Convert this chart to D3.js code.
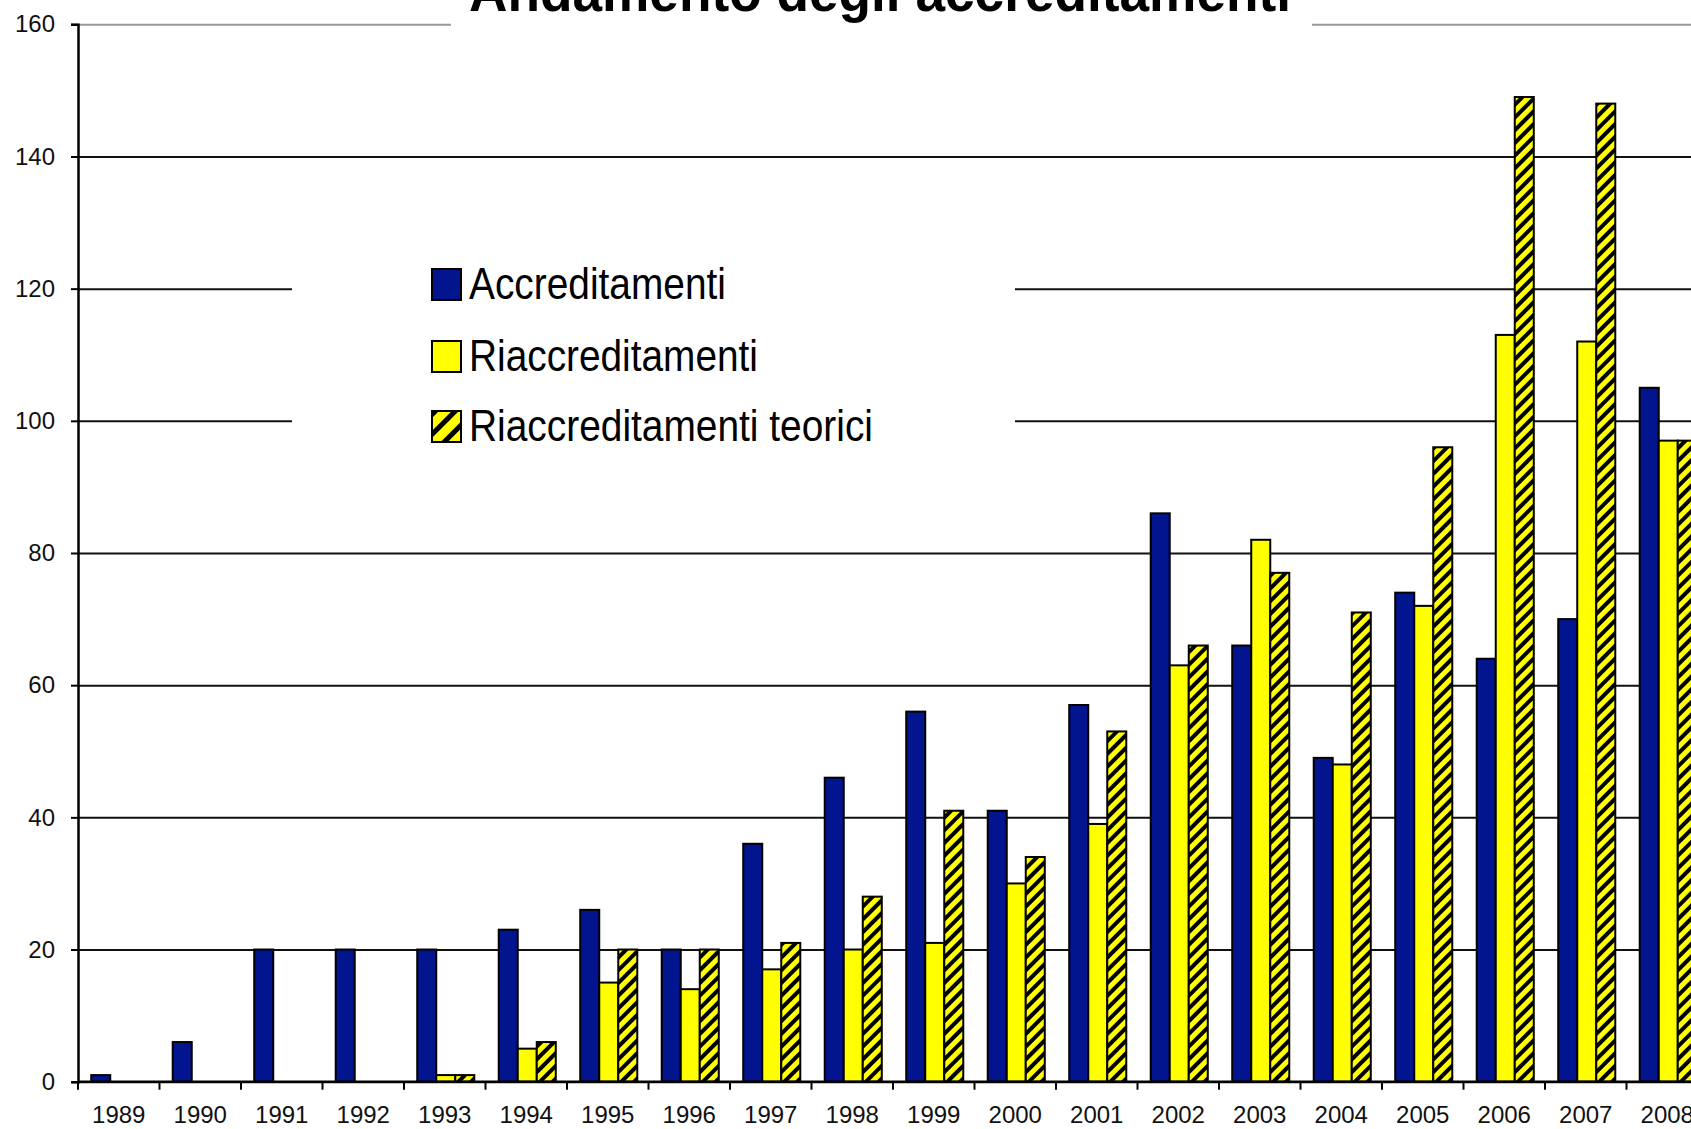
<!DOCTYPE html>
<html>
<head>
<meta charset="utf-8">
<script src="https://cdn.jsdelivr.net/npm/d3@7"></script>
<style>
  body { margin: 0; background: #fff; overflow: hidden; }
  text { font-family: "Liberation Sans", Arial, sans-serif; }
</style>
</head>
<body>
<div id="chart"></div>
<script>
var years = ["1989","1990","1991","1992","1993","1994","1995","1996","1997","1998",
             "1999","2000","2001","2002","2003","2004","2005","2006","2007","2008"];
var accreditamenti   = [1, 6, 20, 20, 20, 23, 26, 20, 36, 46, 56, 41, 57, 86, 66, 49, 74, 64, 70, 105];
var riaccreditamenti = [0, 0, 0, 0, 1, 5, 15, 14, 17, 20, 21, 30, 39, 63, 82, 48, 72, 113, 112, 97];
var teorici          = [0, 0, 0, 0, 1, 6, 20, 20, 21, 28, 41, 34, 53, 66, 77, 71, 96, 149, 148, 97];
var seriesNames = ["Accreditamenti", "Riaccreditamenti", "Riaccreditamenti teorici"];
var yTicks = [0, 20, 40, 60, 80, 100, 120, 140, 160];
var title = "Andamento degli accreditamenti";

var W = 1691, H = 1129;
var plotLeft = 78, plotTop = 24.3, plotBottom = 1081.7, step = 81.5;
var plotRight = plotLeft + step * years.length;

var svg = d3.select("#chart").append("svg")
  .attr("width", W)
  .attr("height", H);

var defs = svg.append("defs");
function hatch(id, size, stripe) {
  var p = defs.append("pattern")
    .attr("id", id)
    .attr("patternUnits", "userSpaceOnUse")
    .attr("width", size).attr("height", size)
    .attr("patternTransform", "rotate(45)");
  p.append("rect").attr("width", size).attr("height", size).attr("fill", "#ffff00");
  p.append("rect").attr("width", stripe).attr("height", size).attr("fill", "#000");
}
hatch("hatch", 9, 4);
hatch("hatchBig", 14, 5);

var colors = ["#02148e", "#ffff00", "url(#hatch)"];

var x = d3.scaleBand()
  .domain(years)
  .range([plotLeft, plotRight])
  .paddingInner(0.3)
  .paddingOuter(0.15);

var x1 = d3.scaleBand()
  .domain(d3.range(3))
  .range([0, x.bandwidth()]);

var y = d3.scaleLinear()
  .domain([0, 160])
  .range([plotBottom, plotTop]);

// gridlines
var grid = svg.append("g")
  .attr("transform", "translate(" + plotLeft + ",0)")
  .call(d3.axisLeft(y).tickValues(yTicks).tickSize(-(plotRight - plotLeft)).tickFormat(""));
grid.select(".domain").remove();
grid.selectAll(".tick line")
  .attr("stroke", function(d) { return d == 160 ? "#999" : "#111"; })
  .attr("stroke-width", 2);

// white boxes behind title and legend
svg.append("rect").attr("x", 451).attr("y", 0).attr("width", 861).attr("height", 40).attr("fill", "#fff");
svg.append("rect").attr("x", 292).attr("y", 225).attr("width", 723).attr("height", 240).attr("fill", "#fff");

// bars
var data = years.map(function(yr, i) {
  return { year: yr, values: [accreditamenti[i], riaccreditamenti[i], teorici[i]] };
});

var groups = svg.selectAll(".year")
  .data(data)
  .enter().append("g")
  .attr("class", "year")
  .attr("transform", function(d) { return "translate(" + (x(d.year) + 1) + ",0)"; });

groups.selectAll("rect")
  .data(function(d) { return d.values.map(function(v, k) { return { k: k, v: v }; }); })
  .enter().filter(function(d) { return d.v > 0; }).append("rect")
  .attr("x", function(d) { return x1(d.k); })
  .attr("y", function(d) { return y(d.v); })
  .attr("width", x1.bandwidth())
  .attr("height", function(d) { return y(0) - y(d.v); })
  .attr("fill", function(d) { return colors[d.k]; })
  .attr("stroke", "#000")
  .attr("stroke-width", 2);

// y axis
var yAxis = svg.append("g")
  .attr("transform", "translate(" + plotLeft + ",0)")
  .call(d3.axisLeft(y).tickValues(yTicks).tickSize(7).tickPadding(16));
yAxis.select(".domain").attr("stroke", "#000").attr("stroke-width", 2.5);
yAxis.selectAll(".tick line").attr("stroke", "#000").attr("stroke-width", 2);
yAxis.selectAll("text").attr("font-size", 24).attr("fill", "#111")
  .attr("font-family", "Liberation Sans, Arial, sans-serif");

// x axis
var xAxis = svg.append("g")
  .attr("transform", "translate(0," + plotBottom + ")")
  .call(d3.axisBottom(x).tickSize(0).tickPadding(24.5));
xAxis.select(".domain").remove();
xAxis.selectAll("text").attr("font-size", 24).attr("fill", "#111")
  .attr("font-family", "Liberation Sans, Arial, sans-serif");

svg.append("line")
  .attr("x1", plotLeft).attr("x2", plotRight)
  .attr("y1", plotBottom).attr("y2", plotBottom)
  .attr("stroke", "#000").attr("stroke-width", 2.5);

var bounds = years.map(function(d) { return x(d) - x.step() * x.paddingOuter(); });
bounds.push(plotRight);
svg.selectAll(".xtick")
  .data(bounds)
  .enter().append("line")
  .attr("class", "xtick")
  .attr("x1", function(d) { return d; }).attr("x2", function(d) { return d; })
  .attr("y1", plotBottom).attr("y2", plotBottom + 8)
  .attr("stroke", "#000").attr("stroke-width", 2);

// legend
var legendFill = ["#02148e", "#ffff00", "url(#hatchBig)"];
var legendRows = [269, 341, 411];
var legendWidths = [257, 289, 404];
var legend = svg.selectAll(".legend")
  .data(seriesNames)
  .enter().append("g")
  .attr("class", "legend")
  .attr("transform", function(d, i) { return "translate(432," + legendRows[i] + ")"; });

legend.append("rect")
  .attr("width", 29).attr("height", 31)
  .attr("fill", function(d, i) { return legendFill[i]; })
  .attr("stroke", "#000").attr("stroke-width", 2);

legend.append("text")
  .attr("x", 37).attr("y", 30)
  .attr("font-size", 44)
  .attr("textLength", function(d, i) { return legendWidths[i]; })
  .attr("lengthAdjust", "spacingAndGlyphs")
  .attr("fill", "#000")
  .text(function(d) { return d; });

// title (cut at the top edge)
svg.append("text")
  .attr("x", 469).attr("y", 11)
  .attr("font-size", 56)
  .attr("font-weight", "bold")
  .attr("textLength", 822)
  .attr("lengthAdjust", "spacingAndGlyphs")
  .text(title);
</script>
</body>
</html>
